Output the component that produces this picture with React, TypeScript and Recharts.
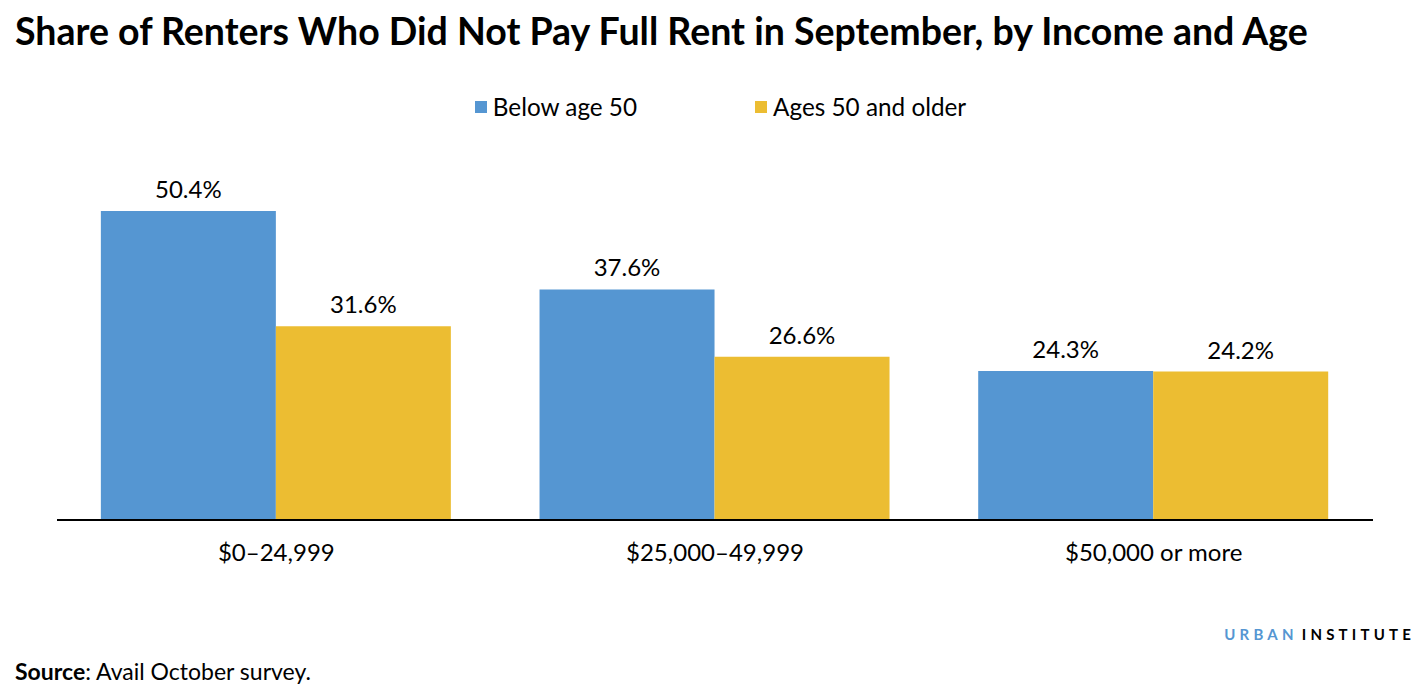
import { Bar, BarChart, LabelList, XAxis, YAxis } from "recharts"

const incomeGroups = ["$0–24,999", "$25,000–49,999", "$50,000 or more"]
const belowAge50 = [50.4, 37.6, 24.3]
const ages50AndOlder = [31.6, 26.6, 24.2]

const seriesNames = ["Below age 50", "Ages 50 and older"]
const seriesColors = ["#5596d2", "#ecbd32"]

const chartData = incomeGroups.map((group, i) => ({
  group,
  below: belowAge50[i],
  older: ages50AndOlder[i],
}))

const font = "Lato, 'Open Sans', sans-serif"

function formatPct(v: number) {
  return `${v.toFixed(1)}%`
}

export default function App() {
  return (
    <div
      style={{
        position: "absolute",
        left: 0,
        top: 0,
        width: 1427,
        height: 693,
        background: "#fff",
        fontFamily: font,
        color: "#000",
      }}
    >
      <div
        style={{
          position: "absolute",
          left: 15,
          top: 9,
          fontSize: 37.5,
          fontWeight: 700,
          lineHeight: "44px",
          whiteSpace: "nowrap",
        }}
      >
        Share of Renters Who Did Not Pay Full Rent in September, by Income and Age
      </div>

      <div
        style={{
          position: "absolute",
          top: 92,
          left: 7,
          width: 1427,
          display: "flex",
          justifyContent: "center",
          gap: 118,
          fontSize: 24.3,
          lineHeight: "30px",
        }}
      >
        {seriesNames.map((name, i) => (
          <div key={name} style={{ display: "flex", alignItems: "center" }}>
            <span
              style={{
                display: "inline-block",
                width: 12,
                height: 12,
                background: seriesColors[i],
                marginRight: 6,
              }}
            />
            {name}
          </div>
        ))}
      </div>

      <div style={{ position: "absolute", left: 0, top: 0 }}>
        <BarChart
          width={1427}
          height={600}
          data={chartData}
          margin={{ top: 152, right: 54, bottom: 40, left: 57 }}
          barCategoryGap="10%"
          barGap={0}
        >
          <YAxis hide domain={[0, 60]} />
          <XAxis
            dataKey="group"
            height={40}
            tickLine={false}
            axisLine={{ stroke: "#000", strokeWidth: 2 }}
            tickMargin={18}
            tick={{ fontSize: 24, fill: "#000", fontFamily: font }}
          />
          <Bar dataKey="below" fill={seriesColors[0]} isAnimationActive={false}>
            <LabelList
              dataKey="below"
              position="top"
              offset={13}
              formatter={(v: number) => formatPct(v)}
              style={{ fontSize: 24, fill: "#000", fontFamily: font }}
            />
          </Bar>
          <Bar dataKey="older" fill={seriesColors[1]} isAnimationActive={false}>
            <LabelList
              dataKey="older"
              position="top"
              offset={13}
              formatter={(v: number) => formatPct(v)}
              style={{ fontSize: 24, fill: "#000", fontFamily: font }}
            />
          </Bar>
        </BarChart>
      </div>

      <div
        style={{
          position: "absolute",
          right: 12,
          top: 624,
          fontSize: 15,
          fontWeight: 700,
          letterSpacing: 4.2,
          lineHeight: "20px",
          whiteSpace: "nowrap",
        }}
      >
        <span style={{ color: "#5596d2" }}>URBAN</span>
        <span style={{ marginLeft: 4 }}>INSTITUTE</span>
      </div>

      <div
        style={{
          position: "absolute",
          left: 15,
          top: 657,
          fontSize: 23,
          lineHeight: "28px",
          whiteSpace: "nowrap",
        }}
      >
        <b>Source</b>: Avail October survey.
      </div>
    </div>
  )
}
